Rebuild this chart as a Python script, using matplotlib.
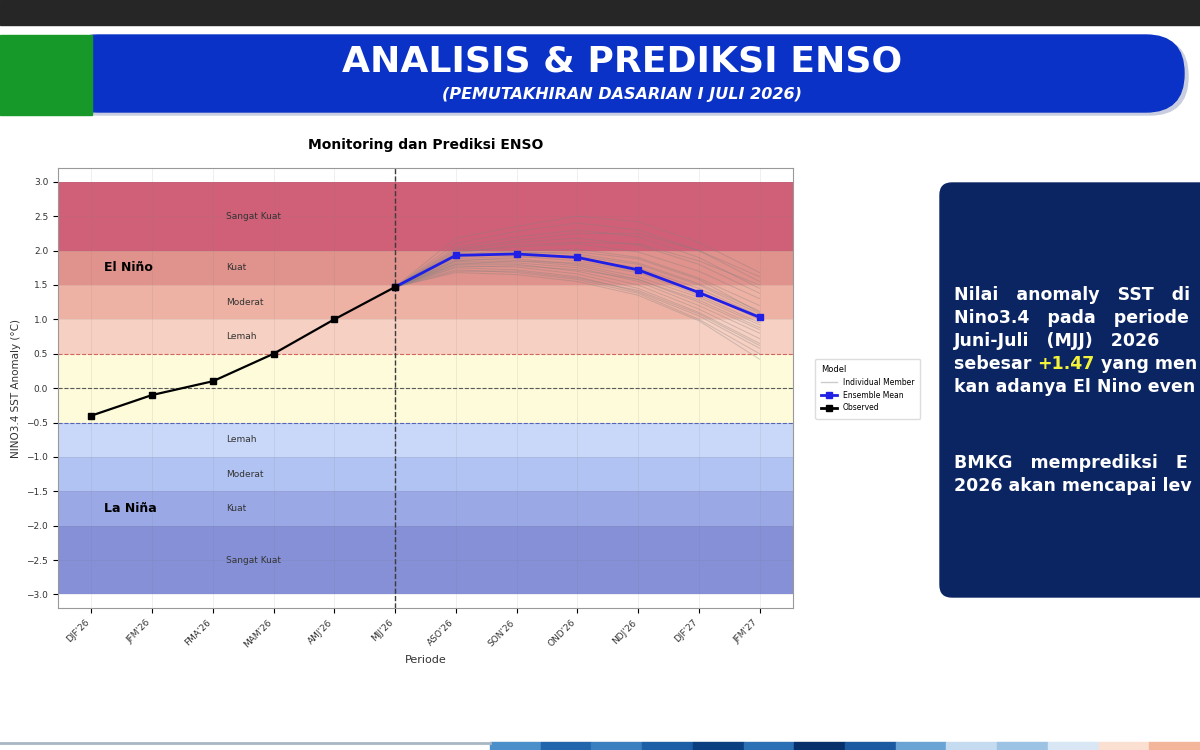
import matplotlib
matplotlib.use("Agg")
import matplotlib.pyplot as plt
from matplotlib.patches import Rectangle, FancyBboxPatch
from matplotlib.lines import Line2D

# ---- data ----
periods = ["DJF'26", "JFM'26", "FMA'26", "MAM'26", "AMJ'26", "MJJ'26",
           "ASO'26", "SON'26", "OND'26", "NDJ'26", "DJF'27", "JFM'27"]
observed = [-0.4, -0.1, 0.1, 0.5, 1.0, 1.47]
ens_mean = [1.47, 1.93, 1.95, 1.90, 1.72, 1.39, 1.03]
members = [
    [1.47, 2.18, 2.35, 2.50, 2.42, 2.12, 1.68],
    [1.47, 2.10, 2.28, 2.40, 2.30, 2.00, 1.55],
    [1.47, 2.05, 2.20, 2.30, 2.20, 1.90, 1.45],
    [1.47, 2.00, 2.12, 2.18, 2.08, 1.80, 1.38],
    [1.47, 1.98, 2.05, 2.10, 1.98, 1.70, 1.30],
    [1.47, 1.95, 2.00, 2.02, 1.90, 1.60, 1.20],
    [1.47, 1.93, 1.98, 1.95, 1.82, 1.52, 1.12],
    [1.47, 1.90, 1.95, 1.90, 1.75, 1.45, 1.05],
    [1.47, 1.88, 1.92, 1.85, 1.70, 1.40, 1.00],
    [1.47, 1.86, 1.88, 1.80, 1.62, 1.32, 0.92],
    [1.47, 1.84, 1.85, 1.78, 1.58, 1.25, 0.85],
    [1.47, 1.82, 1.82, 1.75, 1.55, 1.20, 0.80],
    [1.47, 1.80, 1.80, 1.70, 1.50, 1.15, 0.72],
    [1.47, 1.78, 1.76, 1.66, 1.45, 1.10, 0.65],
    [1.47, 1.75, 1.72, 1.62, 1.40, 1.05, 0.58],
    [1.47, 1.72, 1.68, 1.58, 1.38, 1.00, 0.50],
    [1.47, 1.68, 1.65, 1.55, 1.35, 0.98, 0.42],
    [1.47, 2.02, 2.15, 2.25, 2.25, 2.00, 1.62],
    [1.47, 1.96, 2.08, 2.12, 2.10, 1.85, 1.50],
    [1.47, 1.92, 1.96, 1.98, 1.88, 1.58, 1.10],
    [1.47, 1.85, 1.90, 1.92, 1.80, 1.50, 1.08],
    [1.47, 1.80, 1.85, 1.82, 1.68, 1.35, 0.95],
    [1.47, 1.76, 1.78, 1.72, 1.58, 1.28, 0.88],
    [1.47, 1.70, 1.70, 1.60, 1.42, 1.08, 0.62],
]
band_edges = [(2.0, 3.0), (1.5, 2.0), (1.0, 1.5), (0.5, 1.0), (-0.5, 0.5),
              (-1.0, -0.5), (-1.5, -1.0), (-2.0, -1.5), (-3.0, -2.0)]
band_colors = ["#d06078", "#e0928c", "#eeb2a4", "#f6d0c2", "#fdfbda",
               "#c9d8f8", "#b0c3f2", "#9aa9e6", "#8590d6"]
band_labels = [("Sangat Kuat", 2.5), ("Kuat", 1.75), ("Moderat", 1.25), ("Lemah", 0.75),
               ("Lemah", -0.75), ("Moderat", -1.25), ("Kuat", -1.75), ("Sangat Kuat", -2.5)]

fig = plt.figure(figsize=(12, 7.5), dpi=100)

# ---- slide background (pixel coordinates) ----
bg = fig.add_axes([0, 0, 1, 1])
bg.set_xlim(0, 1200)
bg.set_ylim(750, 0)
bg.axis("off")
bg.add_patch(Rectangle((0, 0), 1200, 25, color="#262626"))
bg.add_patch(FancyBboxPatch((60, 38), 1128, 77, boxstyle="round,pad=0,rounding_size=38",
                            color="#c8cde0"))
bg.add_patch(FancyBboxPatch((60, 35), 1124, 77, boxstyle="round,pad=0,rounding_size=38",
                            color="#0b32c6"))
bg.add_patch(Rectangle((0, 35), 92, 80, color="#17992a"))
bg.text(622, 62, "ANALISIS & PREDIKSI ENSO", color="white", fontsize=26,
        fontweight="bold", ha="center", va="center")
bg.text(622, 95, "(PEMUTAKHIRAN DASARIAN I JULI 2026)", color="white", fontsize=11.5,
        fontweight="bold", style="italic", ha="center", va="center")

bg.add_patch(FancyBboxPatch((940, 183), 300, 414, boxstyle="round,pad=0,rounding_size=12",
                            color="#0b2462"))
txt = dict(color="white", fontsize=12.5, fontweight="bold", va="center", family="DejaVu Sans")
bg.text(954, 295, "Nilai   anomaly   SST   di", **txt)
bg.text(954, 318, "Nino3.4   pada   periode", **txt)
bg.text(954, 341, "Juni-Juli   (MJJ)   2026", **txt)
t1 = bg.text(954, 364, "sebesar ", **txt)
t2 = bg.annotate("+1.47", xycoords=t1, xy=(1, 0.5), va="center", color="#f2f23a",
                 fontsize=12.5, fontweight="bold")
bg.annotate(" yang men", xycoords=t2, xy=(1, 0.5), va="center", color="white",
            fontsize=12.5, fontweight="bold")
bg.text(954, 387, "kan adanya El Nino even", **txt)
bg.text(954, 463, "BMKG   memprediksi   E", **txt)
bg.text(954, 486, "2026 akan mencapai lev", **txt)

bg.plot([0, 490], [743, 743], color="#a9b6c4", lw=2)
stripe_colors = ["#4a8fc9", "#2166ac", "#3a7fc0", "#1d5fa6", "#0b3f80", "#2c70b6",
                 "#08306b", "#1b5aa0", "#6aa4d4", "#c5dbef", "#9cc3e4", "#d9e7f5",
                 "#fbe0d2", "#f4b69a"]
sw = 710 / len(stripe_colors)
for i, c in enumerate(stripe_colors):
    bg.add_patch(Rectangle((490 + i * sw, 742), sw, 8, color=c))

# ---- chart ----
ax = fig.add_axes([0.0483, 0.189, 0.6125, 0.587])
x_all = list(range(len(periods)))
x_obs = x_all[:len(observed)]
x_fc = x_all[len(observed) - 1:]

for (lo, hi), c in zip(band_edges, band_colors):
    ax.axhspan(lo, hi, color=c, zorder=0, lw=0)
for lab, yv in band_labels:
    ax.text(2.22, yv, lab, fontsize=6.5, color="#333333", va="center", ha="left")
ax.text(0.2, 1.75, "El Niño", fontsize=9, fontweight="bold", va="center")
ax.text(0.2, -1.75, "La Niña", fontsize=9, fontweight="bold", va="center")

ax.axhline(0.5, color="#e06060", ls="--", lw=0.8, zorder=1)
ax.axhline(-0.5, color="#5060c0", ls="--", lw=0.8, zorder=1)
ax.axhline(0.0, color="#555555", ls="--", lw=0.8, zorder=1)
ax.axvline(x_obs[-1], color="#333333", ls="--", lw=1.0, zorder=1)

for m in members:
    ax.plot(x_fc, m, color="#808080", alpha=0.35, lw=0.7, zorder=2)
ax.plot(x_fc, ens_mean, color="#1f1fe6", lw=2, marker="s", ms=5, zorder=4)
ax.plot(x_obs, observed, color="black", lw=1.6, marker="s", ms=5, zorder=5)

ax.set_xlim(-0.55, 11.55)
ax.set_ylim(-3.2, 3.2)
ax.set_yticks([-3.0, -2.5, -2.0, -1.5, -1.0, -0.5, 0.0, 0.5, 1.0, 1.5, 2.0, 2.5, 3.0])
ax.set_xticks(x_all)
ax.set_xticklabels(periods, rotation=45, ha="right", fontsize=6.5, color="#333333")
ax.tick_params(axis="y", labelsize=6.5, labelcolor="#333333")
ax.grid(True, color="gray", alpha=0.15, lw=0.6)
for s in ax.spines.values():
    s.set_color("#999999")
ax.set_title("Monitoring dan Prediksi ENSO", fontsize=10, fontweight="bold", pad=14)
ax.set_xlabel("Periode", fontsize=8, color="#333333")
ax.set_ylabel("NINO3.4 SST Anomaly (°C)", fontsize=7.5, color="#333333")

handles = [Line2D([], [], color="gray", alpha=0.4, lw=1),
           Line2D([], [], color="#1f1fe6", lw=2, marker="s", ms=4),
           Line2D([], [], color="black", lw=2, marker="s", ms=4)]
ax.legend(handles, ["Individual Member", "Ensemble Mean", "Observed"], title="Model",
          loc="upper left", bbox_to_anchor=(1.025, 0.575), fontsize=5.5, title_fontsize=6,
          alignment="left", framealpha=1, edgecolor="#dddddd", borderpad=0.8)

fig.savefig("out.png", dpi=100)
